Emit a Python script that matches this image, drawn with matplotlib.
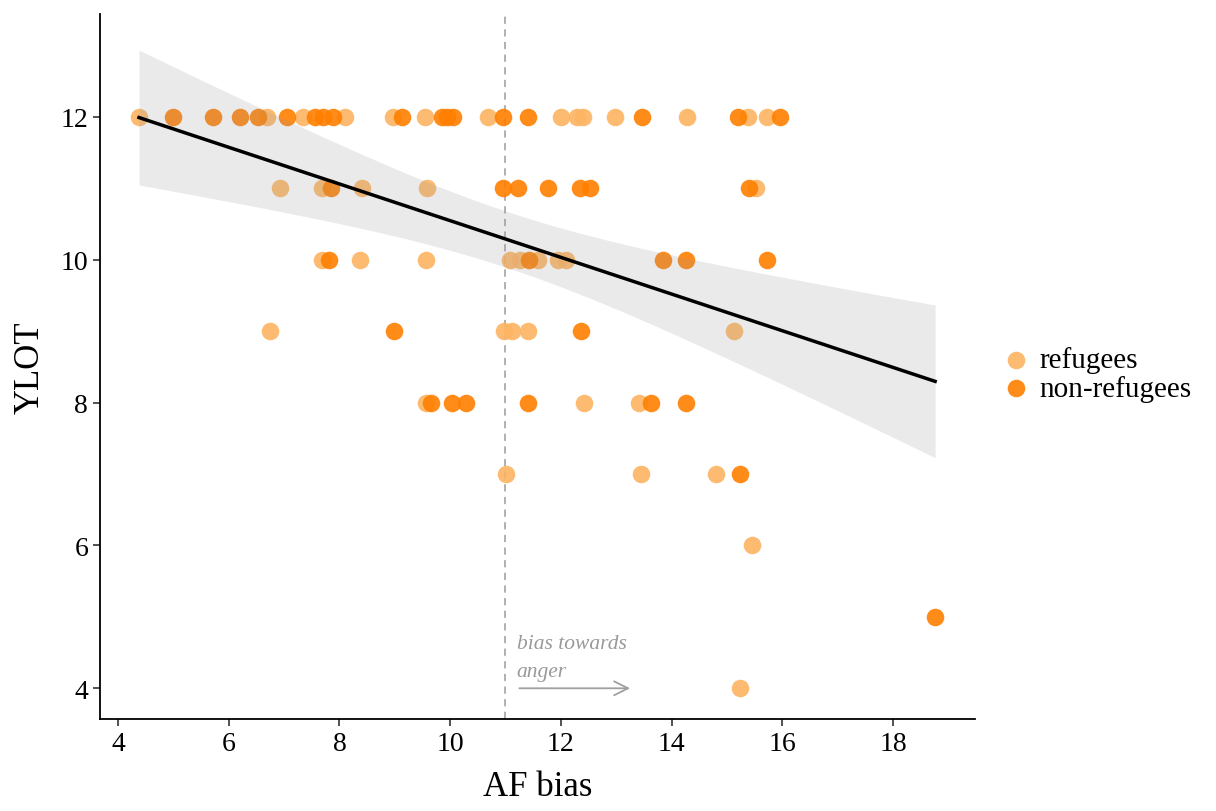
import numpy as np
import matplotlib.pyplot as plt

plt.rcParams['font.family'] = ['Liberation Serif', 'DejaVu Serif']

# AF bias / YLOT scores per group
ref_x = [4.38, 6.7, 7.34, 8.1, 8.97, 9.55, 10.68, 12.0, 12.3, 12.4, 12.98, 14.28, 15.38, 15.72,
         6.92, 7.68, 8.41, 9.59, 15.52,
         7.68, 8.37, 9.57, 11.08, 11.26, 11.59, 11.95, 12.1,
         6.74, 10.98, 11.12, 11.41, 15.13,
         9.57, 12.42, 13.42,
         11.01, 13.45, 14.8,
         15.46,
         15.24]
ref_y = [12] * 14 + [11] * 5 + [10] * 8 + [9] * 5 + [8] * 3 + [7] * 3 + [6] + [4]

non_x = [5.0, 5.72, 6.2, 6.53, 7.05, 7.56, 7.7, 7.89, 9.13, 9.85, 9.95, 10.05, 10.95, 11.4, 13.46, 15.2, 15.96,
         7.84, 10.95, 11.23, 11.77, 12.34, 12.53, 15.4,
         7.82, 11.43, 13.85, 14.26, 15.72,
         8.98, 12.36,
         9.66, 10.03, 10.28, 11.41, 13.63, 14.26,
         15.24,
         18.76]
non_y = [12] * 17 + [11] * 7 + [10] * 5 + [9] * 2 + [8] * 6 + [7] + [5]

col_ref = '#FDB462'
col_non = '#FF7F00'

fig = plt.figure(figsize=(12.16, 8.12), dpi=100)
ax = fig.add_axes([0.0822, 0.1133, 0.7196, 0.8682])

ax.scatter(ref_x, ref_y, s=160, color=col_ref, alpha=0.9, linewidths=0, label='refugees', zorder=2)
ax.scatter(non_x, non_y, s=160, color=col_non, alpha=0.9, linewidths=0, label='non-refugees', zorder=2)

# linear fit with 95% confidence band over all points
x_all = np.array(ref_x + non_x)
y_all = np.array(ref_y + non_y, dtype=float)
n = len(x_all)
slope, icpt = np.polyfit(x_all, y_all, 1)
resid = y_all - (slope * x_all + icpt)
s_err = np.sqrt(np.sum(resid ** 2) / (n - 2))
xs = np.linspace(x_all.min(), x_all.max(), 100)
ys = slope * xs + icpt
se = s_err * np.sqrt(1 / n + (xs - x_all.mean()) ** 2 / np.sum((x_all - x_all.mean()) ** 2))
t_crit = 1.99
ax.fill_between(xs, ys - t_crit * se, ys + t_crit * se, color='#999999', alpha=0.2, linewidth=0, zorder=3)
ax.plot(xs, ys, color='black', linewidth=2.5, zorder=4)

ax.axvline(11, color='#AAAAAA', linestyle=(0, (4, 3)), linewidth=1.3, zorder=1)
ax.text(11.2, 4.5, 'bias towards', style='italic', color='#999999', fontsize=15.5, va='bottom')
ax.text(11.2, 4.1, 'anger', style='italic', color='#999999', fontsize=15.5, va='bottom')
ax.annotate('', xy=(13.3, 4), xytext=(11.2, 4),
            arrowprops=dict(arrowstyle='->', color='#A0A0A0', lw=1.3, mutation_scale=25))

ax.set_xlim(3.675, 19.48)
ax.set_ylim(3.57, 13.44)
ax.set_xticks([4, 6, 8, 10, 12, 14, 16, 18])
ax.set_yticks([4, 6, 8, 10, 12])
ax.tick_params(labelsize=20, length=5, width=1.2, color='#333333')
ax.set_xlabel('AF bias', fontsize=25, labelpad=10)
ax.set_ylabel('YLOT', fontsize=25, labelpad=10)
for side in ['top', 'right']:
    ax.spines[side].set_visible(False)
for side in ['left', 'bottom']:
    ax.spines[side].set_linewidth(1.3)

fig.legend(loc='center left', bbox_to_anchor=(0.802, 0.538), frameon=False, fontsize=21,
           handlelength=1.0, handletextpad=0.3, labelspacing=0.05)

fig.savefig('out.png', dpi=100)
